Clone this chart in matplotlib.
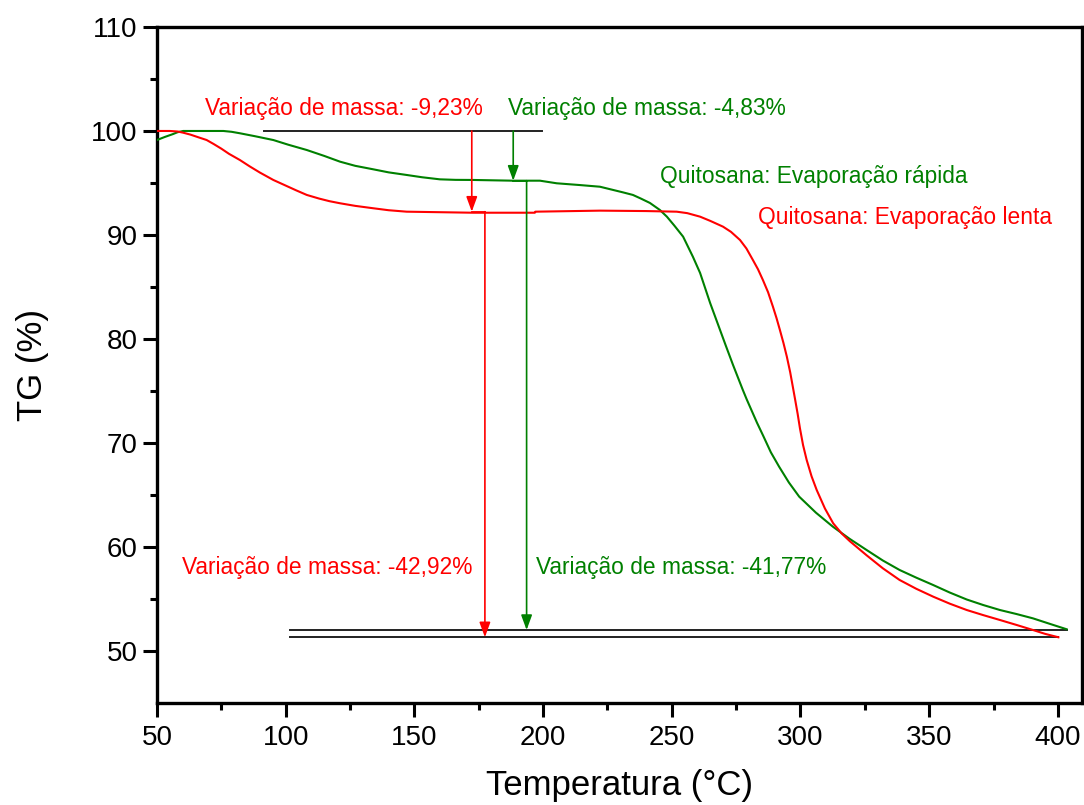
import matplotlib
matplotlib.use("Agg")
import matplotlib.pyplot as plt

plt.rcParams['font.family'] = ['Liberation Sans', 'DejaVu Sans']

# TG curve: chitosan, fast evaporation
temp_rapida = [50, 53, 56.2, 58, 60.2, 75.8, 79, 82.2, 88, 95.2, 101, 108.2, 115, 121.1,
               127, 133.9, 140, 147, 153, 159.9, 166, 172.8, 188.4, 198.8, 205.3, 214.3,
               222.1, 227.2, 231, 234.9, 238, 241.5, 245.4, 248.1, 251, 254.4, 258.2,
               261.0, 264.9, 268.7, 271, 273.8, 277.6, 279.1, 283.1, 285.5, 288.5, 291.7,
               295.5, 299.5, 306, 312.6, 319, 325.7, 332, 338.5, 345, 351.5, 358, 364.6,
               371, 377.5, 384, 390.3, 397, 403.4]
tg_rapida = [99.13, 99.42, 99.70, 99.88, 100.0, 100.0, 99.92, 99.78, 99.50, 99.13, 98.68,
             98.17, 97.60, 97.05, 96.65, 96.32, 96.02, 95.77, 95.55, 95.35, 95.30, 95.29,
             95.22, 95.22, 94.97, 94.80, 94.64, 94.33, 94.10, 93.85, 93.50, 93.08, 92.40,
             91.76, 90.90, 89.84, 87.91, 86.35, 83.46, 80.90, 79.35, 77.50, 75.10, 74.20,
             71.95, 70.70, 69.10, 67.72, 66.20, 64.84, 63.30, 61.95, 60.80, 59.71, 58.70,
             57.79, 57.05, 56.35, 55.62, 54.95, 54.42, 53.94, 53.55, 53.14, 52.60, 52.09]

# TG curve: chitosan, slow evaporation
temp_lenta = [50, 55, 58, 60.1, 63, 66, 69.3, 72, 75, 78, 82.2, 86, 90, 95.2, 100, 104,
              108.2, 113, 117, 121.1, 127, 134, 140, 147, 172.8, 196.8, 197.0, 222.1,
              240, 251.9, 256, 261, 265, 269.9, 273, 276.5, 279, 281.5, 283.5, 285.4,
              287.4, 289.3, 290.7, 292, 293.4, 294.7, 296, 297.1, 297.9, 298.9, 299.8,
              301, 302.4, 304.3, 306.3, 309.5, 312.7, 316, 319.2, 325.7, 332, 338.5, 345,
              351.6, 358, 364.6, 371, 377.5, 384, 390.3, 395, 400.2]
tg_lenta = [100.0, 100.0, 99.95, 99.84, 99.65, 99.40, 99.13, 98.75, 98.30, 97.80, 97.21,
            96.60, 96.00, 95.29, 94.75, 94.30, 93.85, 93.50, 93.25, 93.05, 92.80, 92.57,
            92.38, 92.24, 92.14, 92.14, 92.24, 92.34, 92.30, 92.24, 92.10, 91.76, 91.35,
            90.80, 90.30, 89.52, 88.70, 87.60, 86.70, 85.67, 84.50, 83.10, 82.00, 80.87,
            79.60, 78.30, 76.80, 75.30, 74.20, 72.80, 71.40, 69.80, 68.37, 66.80, 65.48,
            63.70, 62.28, 61.30, 60.55, 59.20, 57.95, 56.83, 55.98, 55.22, 54.55, 53.94,
            53.45, 52.98, 52.50, 52.02, 51.65, 51.32]

# Reference levels used for the mass-loss arrows
initial_level = 100.0
plateau_rapida = 95.22
plateau_lenta = 92.24
residue_rapida = 52.02
residue_lenta = 51.32

red = '#FF0000'
green = '#008000'

fig = plt.figure(figsize=(10.84, 8.05), dpi=100)
ax = fig.add_axes([0.1448, 0.1267, 0.8532, 0.8398])

ax.plot(temp_rapida, tg_rapida, color=green, lw=1.5, zorder=3)
ax.plot(temp_lenta, tg_lenta, color=red, lw=1.5, zorder=3)

# Baselines
ax.plot([91.6, 199.5], [initial_level, initial_level], color='#222222', lw=1.4)
ax.plot([101.7, 403.5], [residue_rapida, residue_rapida], color='#222222', lw=1.4)
ax.plot([101.7, 400.0], [residue_lenta, residue_lenta], color='#222222', lw=1.4)

# Plateau markers where the first step ends
ax.plot([188.4, 193.6], [plateau_rapida, plateau_rapida], color=green, lw=1.3)
ax.plot([172.3, 177.4], [plateau_lenta, plateau_lenta], color=red, lw=1.3)


def arrow(x, y0, y1, color):
    ax.annotate('', xy=(x, y1), xytext=(x, y0),
                arrowprops=dict(arrowstyle='-|>,head_length=0.6,head_width=0.22',
                                color=color, lw=1.2, shrinkA=0, shrinkB=0,
                                mutation_scale=15))


arrow(172.3, initial_level, plateau_lenta, red)
arrow(188.4, initial_level, plateau_rapida, green)
arrow(177.4, plateau_lenta, residue_lenta, red)
arrow(193.6, plateau_rapida, residue_rapida, green)

fs = 16.4
ax.text(68.6, 102.2, 'Variação de massa: -9,23%', color=red, fontsize=fs,
        ha='left', va='center')
ax.text(186.4, 102.2, 'Variação de massa: -4,83%', color=green, fontsize=fs,
        ha='left', va='center')
ax.text(245.4, 95.6, 'Quitosana: Evaporação rápida', color=green, fontsize=fs,
        ha='left', va='center')
ax.text(283.5, 91.7, 'Quitosana: Evaporação lenta', color=red, fontsize=fs,
        ha='left', va='center')
ax.text(59.7, 58.0, 'Variação de massa: -42,92%', color=red, fontsize=fs,
        ha='left', va='center')
ax.text(197.2, 58.0, 'Variação de massa: -41,77%', color=green, fontsize=fs,
        ha='left', va='center')

ax.set_xlim(50, 409.3)
ax.set_ylim(45, 110)
ax.set_xticks([50, 100, 150, 200, 250, 300, 350, 400])
ax.set_xticks([75, 125, 175, 225, 275, 325, 375], minor=True)
ax.set_yticks([50, 60, 70, 80, 90, 100, 110])
ax.set_yticks([55, 65, 75, 85, 95, 105], minor=True)

ax.tick_params(which='major', direction='out', length=10, width=2.2,
               labelsize=20, color='black')
ax.tick_params(which='minor', direction='out', length=5, width=2.2)
ax.tick_params(axis='x', which='major', pad=6)
ax.tick_params(axis='y', which='major', pad=4)

for s in ax.spines.values():
    s.set_linewidth(2.4)

ax.set_xlabel('Temperatura (°C)', fontsize=25, labelpad=13)
ax.set_ylabel('TG (%)', fontsize=25, labelpad=30)

fig.savefig('out.png', dpi=100)
